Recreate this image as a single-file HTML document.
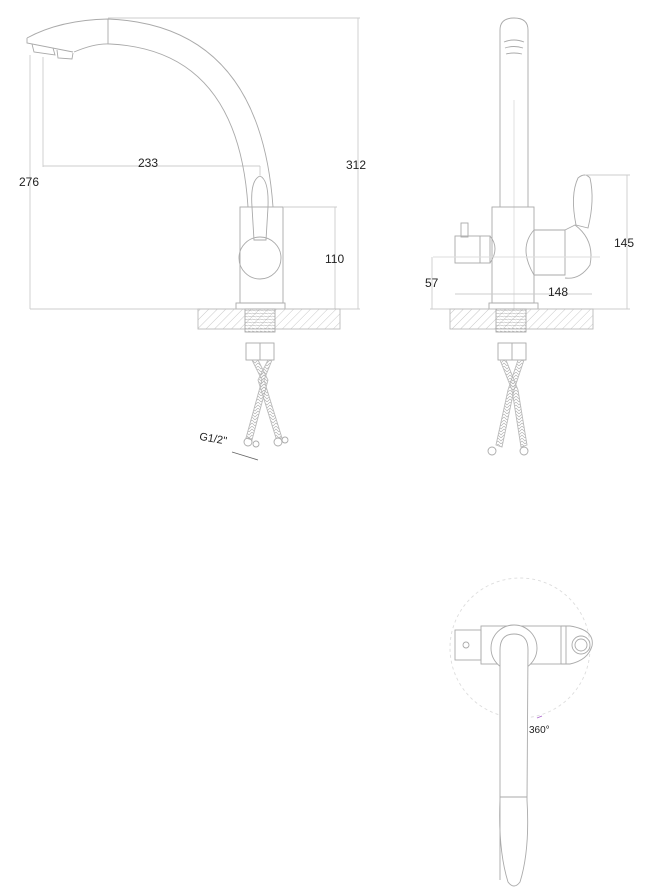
<!DOCTYPE html>
<html><head><meta charset="utf-8"><style>
html,body{margin:0;padding:0;background:#fff;}
svg{display:block;}
text{font-family:"Liberation Sans",sans-serif;font-size:12px;fill:#222;}
</style></head><body>
<svg width="651" height="892" viewBox="0 0 651 892" xmlns="http://www.w3.org/2000/svg">
<defs>
<pattern id="h" width="6" height="6" patternUnits="userSpaceOnUse" patternTransform="rotate(45)">
<line x1="0" y1="0" x2="0" y2="6" stroke="#bbb" stroke-width="0.8"/>
</pattern>
<pattern id="t" width="4" height="3" patternUnits="userSpaceOnUse">
<line x1="0" y1="1" x2="4" y2="2" stroke="#aaa" stroke-width="0.6"/>
</pattern>
<pattern id="b" width="6" height="6" patternUnits="userSpaceOnUse">
<path d="M0 0 L3 3 L6 0 M0 3 L3 6 L6 3" fill="none" stroke="#aaa" stroke-width="0.6"/>
</pattern>
</defs>
<g fill="none" stroke="#aaa" stroke-width="0.9">
<!-- LEFT VIEW -->
<line x1="108" y1="18" x2="360" y2="18" stroke="#ccc"/>
<line x1="358" y1="18" x2="358" y2="309" stroke="#ccc"/>
<line x1="30" y1="309" x2="360" y2="309" stroke="#ccc"/>
<line x1="30" y1="55" x2="30" y2="309" stroke="#ccc"/>
<line x1="43" y1="57" x2="43" y2="167" stroke="#ccc"/>
<line x1="43" y1="166" x2="260" y2="166" stroke="#ccc"/>
<line x1="260" y1="166" x2="260" y2="175" stroke="#ccc"/>
<path d="M27 38 Q60 20 108 19 Q260 25 273 207"/>
<path d="M74 52 Q95 43 110 44 Q238 50 248 207"/>
<line x1="108" y1="19" x2="108" y2="44"/>
<path d="M27 38 L27 43 L73 52"/>
<path d="M32 44 L34 52 L55 55 L53 48 M57 50 L58 58 L72 59 L73 53"/>
<rect x="240" y="207" width="43" height="96"/>
<path d="M252 207 Q250 180 260 176 Q269 180 268 207 L266 240 L254 240 Z"/>
<circle cx="260" cy="258" r="21"/>
<rect x="236" y="303" width="49" height="6"/>
<line x1="283" y1="207" x2="337" y2="207" stroke="#ccc"/>
<line x1="335" y1="207" x2="335" y2="309" stroke="#ccc"/>
<rect x="198" y="309" width="142" height="20" fill="url(#h)" stroke="#bbb"/>
<rect x="245" y="309" width="30" height="23" fill="url(#t)"/>
<rect x="246" y="343" width="28" height="17"/>
<line x1="260" y1="343" x2="260" y2="360"/>
<path d="M252 360 L262 380 L246 438 L252 440 L268 380 L258 360" fill="url(#b)" stroke="#bbb"/>
<path d="M268 360 L258 380 L276 438 L282 438 L264 380 L272 360" fill="url(#b)" stroke="#bbb"/>
<circle cx="248" cy="442" r="4"/><circle cx="256" cy="444" r="3"/>
<circle cx="278" cy="442" r="4"/><circle cx="285" cy="440" r="3"/>
<line x1="232" y1="452" x2="258" y2="460" stroke="#666"/>
<!-- RIGHT VIEW -->
<path d="M500 207 L500 30 Q500 18 514 18 Q528 18 528 30 L528 207"/>
<path d="M504 42 Q514 38 524 42 M505 48 Q514 45 523 48 M506 54 Q514 52 522 54"/>
<line x1="514" y1="100" x2="514" y2="309" stroke="#ddd"/>
<rect x="492" y="207" width="42" height="96"/>
<rect x="455" y="236" width="35" height="27"/>
<line x1="480" y1="236" x2="480" y2="263"/>
<rect x="461" y="223" width="7" height="14"/>
<path d="M490 236 Q500 248 490 263"/>
<path d="M534 230 Q518 248 534 275 L565 275 L565 230 Z"/>
<path d="M565 230 L575 225 Q595 240 590 265 Q580 280 565 278"/>
<path d="M576 225 Q570 195 578 178 Q585 172 590 178 Q595 200 588 228 Z"/>
<line x1="585" y1="175" x2="630" y2="175" stroke="#ccc"/>
<line x1="627" y1="175" x2="627" y2="309" stroke="#ccc"/>
<line x1="433" y1="257" x2="600" y2="257" stroke="#ddd"/>
<line x1="432" y1="257" x2="432" y2="309" stroke="#ccc"/>
<line x1="455" y1="294" x2="592" y2="294" stroke="#ccc"/>
<line x1="430" y1="309" x2="630" y2="309" stroke="#ccc"/>
<rect x="489" y="303" width="49" height="6"/>
<rect x="450" y="309" width="143" height="20" fill="url(#h)" stroke="#bbb"/>
<rect x="496" y="309" width="30" height="23" fill="url(#t)"/>
<rect x="498" y="343" width="28" height="17"/>
<line x1="512" y1="343" x2="512" y2="360"/>
<path d="M518 360 L508 390 L496 445 L502 447 L514 390 L524 360" fill="url(#b)" stroke="#bbb"/>
<path d="M500 360 L512 390 L521 447 L527 445 L518 390 L506 360" fill="url(#b)" stroke="#bbb"/>
<circle cx="492" cy="451" r="4"/><circle cx="524" cy="451" r="4"/>
<!-- BOTTOM VIEW -->
<circle cx="520" cy="648" r="70" stroke="#ddd" stroke-dasharray="3 3"/>
<rect x="455" y="630" width="26" height="30"/>
<circle cx="466" cy="645" r="3"/>
<rect x="481" y="626" width="80" height="38"/>
<path d="M561 626 L570 626 Q595 630 592 646 Q588 660 570 664 L561 664"/>
<line x1="566" y1="626" x2="566" y2="664"/>
<circle cx="581" cy="645" r="9"/><circle cx="581" cy="645" r="6"/>
<circle cx="514" cy="648" r="23" fill="#fff"/>
<path d="M500 880 L500 650 Q500 634 514 634 Q528 634 528 650 L527 800 Q530 850 520 882 Q514 890 508 882 Q498 850 500 800" fill="#fff"/>
<line x1="500" y1="797" x2="527" y2="797"/>
<line x1="537" y1="718" x2="542" y2="716" stroke="#a6c"/>
</g>
<text x="138" y="167">233</text>
<text x="19" y="186">276</text>
<text x="346" y="169">312</text>
<text x="325" y="263">110</text>
<text x="614" y="247">145</text>
<text x="425" y="287">57</text>
<text x="548" y="296">148</text>
<text x="199" y="442" transform="rotate(10 212 440)" style="font-size:11px">G1/2"</text>
<text x="529" y="733" style="font-size:10px">360°</text>
</svg>
</body></html>
